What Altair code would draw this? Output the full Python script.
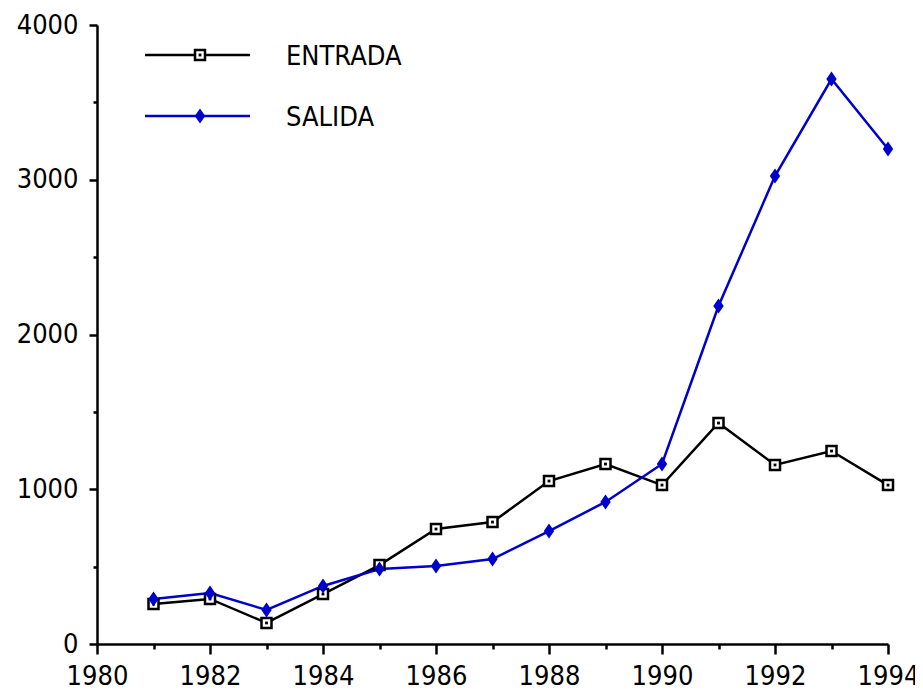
import altair as alt
import pandas as pd

years = [1981, 1982, 1983, 1984, 1985, 1986, 1987, 1988, 1989, 1990, 1991, 1992, 1993, 1994]
entrada = [258, 291, 136, 323, 510, 743, 788, 1053, 1163, 1027, 1428, 1157, 1247, 1027]
salida = [291, 330, 220, 375, 485, 504, 549, 730, 918, 1163, 2184, 3024, 3651, 3199]
x_ticks = list(range(1980, 1995))
y_ticks = list(range(0, 4001, 500))

df_e = pd.DataFrame({"year": years, "value": entrada})
df_s = pd.DataFrame({"year": years, "value": salida})

FONT = "DejaVu Sans Condensed"
BLUE = "#0000CC"
DIAMOND = "M0,-1.3L0.9,0L0,1.3L-0.9,0Z"

x_axis = alt.Axis(
    values=x_ticks, format="d", title=None, grid=False,
    labelExpr="datum.value % 2 === 0 ? datum.label : ''",
    tickSize={"condition": {"test": "datum.value % 2 === 0", "value": 10}, "value": 5},
    labelFlush=False, labelOverlap=False, labelPadding=9,
    labelFont=FONT, labelFontSize=27, labelColor="black",
    domainColor="black", domainWidth=2.5, tickColor="black", tickWidth=2.5,
)
y_axis = alt.Axis(
    values=y_ticks, format="d", title=None, grid=False,
    labelExpr="datum.value % 1000 === 0 ? datum.label : ''",
    tickSize={"condition": {"test": "datum.value % 1000 === 0", "value": 8}, "value": 4},
    labelOverlap=False, labelPadding=11,
    labelFont=FONT, labelFontSize=27, labelColor="black",
    domainColor="black", domainWidth=2.5, tickColor="black", tickWidth=2.5,
)

X = alt.X("year:Q", scale=alt.Scale(domain=[1980, 1994], nice=False, zero=False), axis=x_axis)
Y = alt.Y("value:Q", scale=alt.Scale(domain=[0, 4000], nice=False), axis=y_axis)

e_line = alt.Chart(df_e).mark_line(color="black", strokeWidth=2.5).encode(x=X, y=Y)
e_sq = alt.Chart(df_e).mark_square(size=100, fill="white", stroke="black", strokeWidth=2.5, opacity=1, fillOpacity=1).encode(x=X, y=Y)
e_dot = alt.Chart(df_e).mark_square(size=8, color="black", opacity=1).encode(x=X, y=Y)
s_line = alt.Chart(df_s).mark_line(color=BLUE, strokeWidth=2.5).encode(x=X, y=Y)
s_pt = alt.Chart(df_s).mark_point(shape=DIAMOND, size=133, filled=True, color=BLUE, opacity=1).encode(x=X, y=Y)

leg_e = pd.DataFrame({"label": ["ENTRADA"]})
leg_s = pd.DataFrame({"label": ["SALIDA"]})

le_rule = alt.Chart(leg_e).mark_rule(color="black", strokeWidth=2.5).encode(
    x=alt.value(48), x2=alt.value(153), y=alt.value(30))
le_sq = alt.Chart(leg_e).mark_square(size=100, fill="white", stroke="black", strokeWidth=2.5, opacity=1, fillOpacity=1).encode(
    x=alt.value(103), y=alt.value(30))
le_dot = alt.Chart(leg_e).mark_square(size=8, color="black", opacity=1).encode(x=alt.value(103), y=alt.value(30))
le_txt = alt.Chart(leg_e).mark_text(align="left", baseline="middle", font=FONT, fontSize=27, color="black").encode(
    x=alt.value(189), y=alt.value(32), text="label:N")

ls_rule = alt.Chart(leg_s).mark_rule(color=BLUE, strokeWidth=2.5).encode(
    x=alt.value(48), x2=alt.value(153), y=alt.value(91))
ls_pt = alt.Chart(leg_s).mark_point(shape=DIAMOND, size=133, filled=True, color=BLUE, opacity=1).encode(
    x=alt.value(103), y=alt.value(91))
ls_txt = alt.Chart(leg_s).mark_text(align="left", baseline="middle", font=FONT, fontSize=27, color="black").encode(
    x=alt.value(189), y=alt.value(93), text="label:N")

chart = alt.layer(
    e_line, s_line, e_sq, e_dot, s_pt,
    le_rule, le_sq, le_dot, le_txt, ls_rule, ls_pt, ls_txt,
).properties(
    width=791, height=619,
    background="white",
    autosize=alt.AutoSizeParams(type="none"),
    padding={"left": 89, "top": 17, "right": 27, "bottom": 46},
).configure_view(strokeWidth=0, stroke="transparent")

chart.save("out.html", embed_options={"renderer": "svg", "actions": False})
